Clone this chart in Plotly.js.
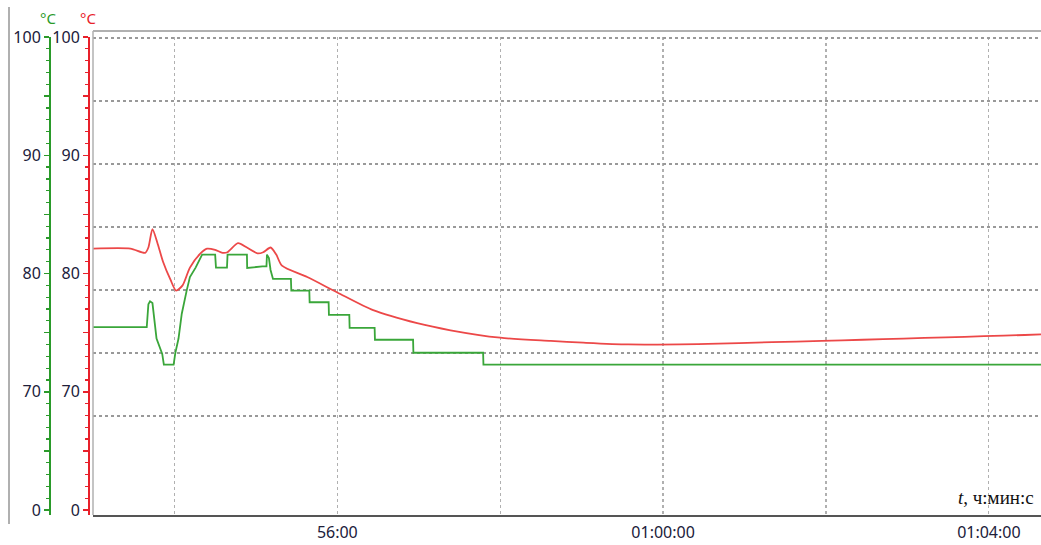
<!DOCTYPE html>
<html>
<head>
<meta charset="utf-8">
<script src="https://cdn.plot.ly/plotly-3.0.1.min.js"></script>
<style>html,body{margin:0;padding:0;background:#fff;}#chart{width:1041px;height:545px;}</style>
</head>
<body>
<div id="chart"></div>
<script>
// time in minutes since 00:00:00
const redTime = [53.0, 53.46, 53.64, 53.68, 53.73, 53.79, 53.86, 53.95, 54.02, 54.10, 54.19, 54.32, 54.40, 54.50, 54.59, 54.65, 54.78, 54.89, 55.02, 55.09, 55.18, 55.25, 55.32, 55.63, 56.0, 56.44, 56.98, 57.39, 58.0, 58.62, 59.02, 59.57, 60.55, 61.34, 61.95, 62.45, 62.95, 63.47, 63.94, 64.44, 64.64];
const redTemp = [82.1, 82.1, 81.75, 82.2, 83.75, 82.6, 81.0, 79.5, 78.56, 79.0, 80.5, 81.7, 82.1, 82.0, 81.75, 81.8, 82.57, 82.2, 81.7, 81.8, 82.2, 81.6, 80.66, 79.7, 78.4, 76.9, 75.8, 75.2, 74.57, 74.3, 74.15, 74.0, 74.05, 74.2, 74.3, 74.4, 74.5, 74.6, 74.7, 74.8, 74.85];

const greenTime = [53.0, 53.66, 53.68, 53.70, 53.73, 53.74, 53.78, 53.85, 53.87, 53.99, 54.01, 54.05, 54.09, 54.15, 54.19, 54.26, 54.32, 54.34, 54.50, 54.51, 54.645, 54.652, 54.89, 54.893, 55.08, 55.13, 55.136, 55.16, 55.18, 55.21, 55.43, 55.435, 55.656, 55.66, 55.893, 55.897, 56.147, 56.151, 56.458, 56.462, 56.93, 56.934, 57.79, 57.794, 64.64];
const greenTemp = [75.46, 75.46, 77.4, 77.65, 77.5, 76.9, 74.5, 73.2, 72.3, 72.3, 73.25, 74.5, 76.6, 78.55, 79.7, 80.5, 81.36, 81.6, 81.6, 80.5, 80.5, 81.6, 81.6, 80.47, 80.6, 80.6, 81.6, 81.3, 80.3, 79.54, 79.54, 78.55, 78.55, 77.57, 77.57, 76.5, 76.5, 75.4, 75.4, 74.4, 74.4, 73.3, 73.3, 72.3, 72.3];

const yTickVals = [60, 65, 70, 75, 80, 85, 90, 95, 100];
const yTickText = ['0', '', '70', '', '80', '', '90', '', '100'];
const xTickVals = [56, 60, 64];
const xTickText = ['56:00', '01:00:00', '01:04:00'];
const unitText = '°C';
const xTitle = '<i>t</i>, ч:мин:с';

const W = 1041, H = 545;
const px = v => v / W;
const py = v => 1 - v / H;

const RED = '#e8202a', GREEN = '#2a9a2a';
const tickFont = {family: 'Noto Sans, Open Sans, sans-serif', size: 16, color: '#20203a'};
const DOMAIN = [1 - 515 / H, 1 - 37 / H];
const gridVals = [0, 1, 2, 3, 4, 5, 6].map(i => 1.571 + i);

const traces = [
  {x: redTime, y: redTemp, xaxis: 'x', yaxis: 'y', type: 'scatter', mode: 'lines',
   line: {color: '#ec4848', width: 1.8, shape: 'spline', smoothing: 0.7}, hoverinfo: 'skip'},
  {x: greenTime, y: greenTemp, xaxis: 'x', yaxis: 'y2', type: 'scatter', mode: 'lines',
   line: {color: '#3aa63a', width: 1.8}, hoverinfo: 'skip'},
  {x: [], y: [], xaxis: 'x', yaxis: 'y3', type: 'scatter', mode: 'lines', hoverinfo: 'skip'}
];

function valAxis(color, pos) {
  return {
    anchor: 'free', position: pos, side: 'left', domain: DOMAIN,
    range: [59.58, 100], tickvals: yTickVals, ticktext: yTickText,
    ticks: 'outside', ticklen: 5, tickwidth: 1.5, tickcolor: color,
    minor: {dtick: 1, tick0: 0, ticks: 'outside', ticklen: 3, tickcolor: color, tickwidth: 1.2, showgrid: false},
    showline: true, linecolor: color, linewidth: 2,
    showgrid: false, zeroline: false, tickfont: tickFont, automargin: false, fixedrange: true
  };
}

const yRed = valAxis(RED, px(89));
const yGreen = Object.assign(valAxis(GREEN, px(50)), {overlaying: 'y'});

const layout = {
  width: W, height: H,
  margin: {l: 0, r: 0, t: 0, b: 0},
  paper_bgcolor: '#ffffff', plot_bgcolor: '#ffffff',
  showlegend: false,
  xaxis: {
    domain: [px(93), 1], range: [53.0, 64.64], anchor: 'y',
    tickvals: xTickVals, ticktext: xTickText, ticks: '', ticklabelstandoff: 2,
    showgrid: true, gridcolor: '#b0b0b0', griddash: 'dot', gridwidth: 1.2,
    minor: {dtick: 2, tick0: 0, showgrid: true, gridcolor: '#b0b0b0', griddash: 'dot', gridwidth: 1.2},
    showline: true, linecolor: '#555555', linewidth: 2,
    zeroline: false, tickfont: tickFont, automargin: false, fixedrange: true
  },
  yaxis: yRed,
  yaxis2: yGreen,
  yaxis3: {
    overlaying: 'y', anchor: 'x', side: 'right', range: [0, 7.587],
    tickmode: 'array', tickvals: gridVals, showticklabels: false, ticks: '',
    showgrid: true, gridcolor: '#999999', griddash: 'dot', gridwidth: 1.5,
    zeroline: false, showline: false, automargin: false, fixedrange: true
  },
  shapes: [
    {type: 'line', xref: 'paper', yref: 'paper', x0: px(93), x1: 1, y0: py(31), y1: py(31), line: {color: '#b0b0b0', width: 2}},
    {type: 'line', xref: 'paper', yref: 'paper', x0: px(93), x1: px(93), y0: py(31), y1: py(515), line: {color: '#b0b0b0', width: 1.5}},
    {type: 'line', xref: 'paper', yref: 'paper', x0: px(9), x1: px(9), y0: py(7), y1: py(524), line: {color: '#b0b0b0', width: 2}}
  ],
  annotations: [
    {text: unitText, xref: 'paper', yref: 'paper', x: px(48), y: py(18), showarrow: false, xanchor: 'center', yanchor: 'middle',
     font: {family: 'Noto Sans, sans-serif', size: 15, color: GREEN}},
    {text: unitText, xref: 'paper', yref: 'paper', x: px(88), y: py(18), showarrow: false, xanchor: 'center', yanchor: 'middle',
     font: {family: 'Noto Sans, sans-serif', size: 15, color: RED}},
    {text: xTitle, xref: 'paper', yref: 'paper', x: px(1036), y: py(497), showarrow: false, xanchor: 'right', yanchor: 'middle',
     font: {family: 'Liberation Serif, Times New Roman, serif', size: 19, color: '#111111'}}
  ]
};

Plotly.newPlot('chart', traces, layout, {displayModeBar: false, staticPlot: true});
</script>
</body>
</html>
